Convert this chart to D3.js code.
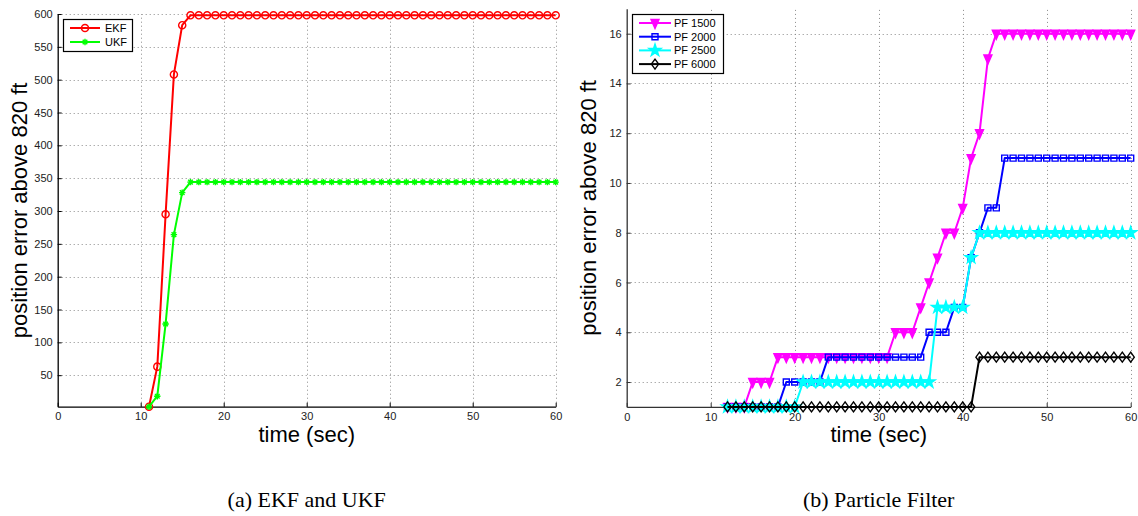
<!DOCTYPE html>
<html><head><meta charset="utf-8">
<script src="https://cdn.jsdelivr.net/npm/d3@7"></script>
<style>body{margin:0;background:#fff;} svg{display:block}</style>
</head><body><svg id="c" width="1138" height="516"></svg>
<script>
// ---------- data ----------
const timeA = [11,12,13,14,15,16,17,18,19,20,21,22,23,24,25,26,27,28,29,30,31,32,33,34,35,36,37,38,39,40,41,42,43,44,45,46,47,48,49,50,51,52,53,54,55,56,57,58,59,60];
const ekf = [2,63,295,508,583,598,598,598,598,598,598,598,598,598,598,598,598,598,598,598,598,598,598,598,598,598,598,598,598,598,598,598,598,598,598,598,598,598,598,598,598,598,598,598,598,598,598,598,598,598];
const ukf = [2,18,128,264,328,344,344,344,344,344,344,344,344,344,344,344,344,344,344,344,344,344,344,344,344,344,344,344,344,344,344,344,344,344,344,344,344,344,344,344,344,344,344,344,344,344,344,344,344,344];

const timeB = [12,13,14,15,16,17,18,19,20,21,22,23,24,25,26,27,28,29,30,31,32,33,34,35,36,37,38,39,40,41,42,43,44,45,46,47,48,49,50,51,52,53,54,55,56,57,58,59,60];
const pf1500 = [1,1,1,2,2,2,3,3,3,3,3,3,3,3,3,3,3,3,3,3,4,4,4,5,6,7,8,8,9,11,12,15,16,16,16,16,16,16,16,16,16,16,16,16,16,16,16,16,16];
const pf2000 = [1,1,1,1,1,1,1,2,2,2,2,2,3,3,3,3,3,3,3,3,3,3,3,3,4,4,4,5,5,7,8,9,9,11,11,11,11,11,11,11,11,11,11,11,11,11,11,11,11];
const pf2500 = [1,1,1,1,1,1,1,1,1,2,2,2,2,2,2,2,2,2,2,2,2,2,2,2,2,5,5,5,5,7,8,8,8,8,8,8,8,8,8,8,8,8,8,8,8,8,8,8,8];
const pf6000 = [1,1,1,1,1,1,1,1,1,1,1,1,1,1,1,1,1,1,1,1,1,1,1,1,1,1,1,1,1,1,3,3,3,3,3,3,3,3,3,3,3,3,3,3,3,3,3,3,3];

const xTicks = [0,10,20,30,40,50,60];
const yTicksA = [50,100,150,200,250,300,350,400,450,500,550,600];
const yTicksB = [2,4,6,8,10,12,14,16];
const namesA = ["EKF","UKF"];
const namesB = ["PF 1500","PF 2000","PF 2500","PF 6000"];
const captions = ["(a) EKF and UKF","(b) Particle Filter"];
const xLabel = "time (sec)";
const yLabel = "position error above 820 ft";

// ---------- markers ----------
const markerDefs = {
  circle:  {d: d3.symbol(d3.symbolCircle, 40)(), fill: "none"},
  asterisk:{d: "M-3.2,0H3.2M0,-3.2V3.2M-2.3,-2.3L2.3,2.3M-2.3,2.3L2.3,-2.3", fill: "none"},
  triDown: {d: "M-4,-3.5L4,-3.5L0,5.5Z", fill: "solid"},
  square:  {d: "M-3,-3H3V3H-3Z", fill: "none"},
  star:    {d: d3.symbol(d3.symbolStar, 45)(), fill: "solid"},
  diamond: {d: "M0,-5L3.6,0L0,5L-3.6,0Z", fill: "none"}
};

const svg = d3.select("#c");
const FONT = "'Liberation Sans', Arial, Helvetica, sans-serif";

function drawPanel(cfg) {
  const x = d3.scaleLinear().domain([0, 60]).range([cfg.x0, cfg.x1]);
  const y = d3.scaleLinear().domain(cfg.yDomain).range([cfg.yBottom, cfg.yTop]);
  const g = svg.append("g");

  // grid
  const grid = g.append("g").attr("stroke", "#8a8a8a").attr("stroke-width", 1)
    .attr("stroke-dasharray", "1,3").attr("fill", "none");
  grid.selectAll("line.vx").data(cfg.xTicks.filter(d => d > 0)).join("line")
    .attr("x1", d => Math.round(x(d)) + 0.5).attr("x2", d => Math.round(x(d)) + 0.5)
    .attr("y1", cfg.yBottom).attr("y2", cfg.yTop);
  grid.selectAll("line.hy").data(cfg.yTicks).join("line")
    .attr("y1", d => Math.round(y(d)) + 0.5).attr("y2", d => Math.round(y(d)) + 0.5)
    .attr("x1", cfg.x0).attr("x2", cfg.x1);

  // axes
  const ax = g.append("g").attr("transform", `translate(0,${cfg.yBottom})`)
    .call(d3.axisBottom(x).tickValues(cfg.xTicks).tickSizeInner(-4).tickSizeOuter(0).tickPadding(6));
  const ay = g.append("g").attr("transform", `translate(${cfg.x0},0)`)
    .call(d3.axisLeft(y).tickValues(cfg.yTicks).tickSizeInner(-4).tickSizeOuter(0).tickPadding(5));
  [ax, ay].forEach(a => {
    a.selectAll("path.domain").attr("stroke", cfg.axisColor).attr("stroke-width", 1.3);
    a.selectAll(".tick line").attr("stroke", cfg.axisColor);
    a.selectAll("text").attr("font-family", FONT).attr("font-size", 11).attr("fill", "#222");
  });

  // series
  const line = d3.line().x(d => x(d[0])).y(d => y(d[1]));
  cfg.series.forEach(s => {
    const pts = s.t.map((t, i) => [t, s.v[i]]);
    const sg = g.append("g");
    sg.append("path").attr("d", line(pts)).attr("fill", "none")
      .attr("stroke", s.color).attr("stroke-width", 2).attr("stroke-linejoin", "round");
    const m = markerDefs[s.marker];
    sg.selectAll("path.m").data(pts).join("path").attr("class", "m")
      .attr("d", m.d)
      .attr("transform", d => `translate(${x(d[0])},${y(d[1])})`)
      .attr("fill", m.fill === "solid" ? s.color : "none")
      .attr("stroke", s.color).attr("stroke-width", 1.4);
  });

  // legend
  const L = cfg.legend;
  const lg = g.append("g");
  lg.append("rect").attr("x", L.x + 0.5).attr("y", L.y + 0.5).attr("width", L.w).attr("height", L.h)
    .attr("fill", "#fff").attr("stroke", "#000").attr("stroke-width", 1.2);
  cfg.series.forEach((s, i) => {
    const yy = L.y + L.first + i * L.step;
    lg.append("line").attr("x1", L.x + L.lx0).attr("x2", L.x + L.lx1).attr("y1", yy).attr("y2", yy)
      .attr("stroke", s.color).attr("stroke-width", 2);
    const m = markerDefs[s.marker];
    lg.append("path").attr("d", m.d).attr("transform", `translate(${L.x + (L.lx0 + L.lx1) / 2},${yy})`)
      .attr("fill", m.fill === "solid" ? s.color : "none").attr("stroke", s.color).attr("stroke-width", 1.4);
    lg.append("text").attr("x", L.x + L.tx).attr("y", yy).attr("dy", "0.35em")
      .attr("font-family", FONT).attr("font-size", 11).attr("fill", "#000").text(s.name);
  });

  // labels
  g.append("text").attr("x", (cfg.x0 + cfg.x1) / 2).attr("y", 442).attr("text-anchor", "middle")
    .attr("font-family", FONT).attr("font-size", 22).attr("fill", "#000").text(xLabel);
  g.append("text").attr("transform", `translate(${cfg.x0 - 30.5},${(cfg.yTop + cfg.yBottom) / 2}) rotate(-90)`)
    .attr("text-anchor", "middle").attr("font-family", FONT).attr("font-size", 22).attr("fill", "#000").text(yLabel);
  g.append("text").attr("x", (cfg.x0 + cfg.x1) / 2).attr("y", 507).attr("text-anchor", "middle")
    .attr("font-family", "'Liberation Serif', 'Times New Roman', serif").attr("font-size", 22).attr("fill", "#000")
    .text(cfg.caption);
}

drawPanel({
  x0: 57.7, x1: 555.7, yTop: 14, yBottom: 406.7, yDomain: [2, 600],
  xTicks: xTicks, yTicks: yTicksA, axisColor: "#000", caption: captions[0],
  series: [
    {name: namesA[0], t: timeA, v: ekf, color: "#ff0000", marker: "circle"},
    {name: namesA[1], t: timeA, v: ukf, color: "#00ff00", marker: "asterisk"}
  ],
  legend: {x: 63, y: 19, w: 69, h: 32, first: 9, step: 14, lx0: 7, lx1: 37, tx: 42}
});

drawPanel({
  x0: 626.7, x1: 1130.7, yTop: 8.8, yBottom: 406.9, yDomain: [1, 17],
  xTicks: xTicks, yTicks: yTicksB, axisColor: "#333", caption: captions[1],
  series: [
    {name: namesB[0], t: timeB, v: pf1500, color: "#ff00ff", marker: "triDown"},
    {name: namesB[1], t: timeB, v: pf2000, color: "#0000ff", marker: "square"},
    {name: namesB[2], t: timeB, v: pf2500, color: "#00ffff", marker: "star"},
    {name: namesB[3], t: timeB, v: pf6000, color: "#000000", marker: "diamond"}
  ],
  legend: {x: 632, y: 14, w: 91, h: 59, first: 9, step: 13.7, lx0: 7, lx1: 39, tx: 42}
});
</script>
</body></html>
